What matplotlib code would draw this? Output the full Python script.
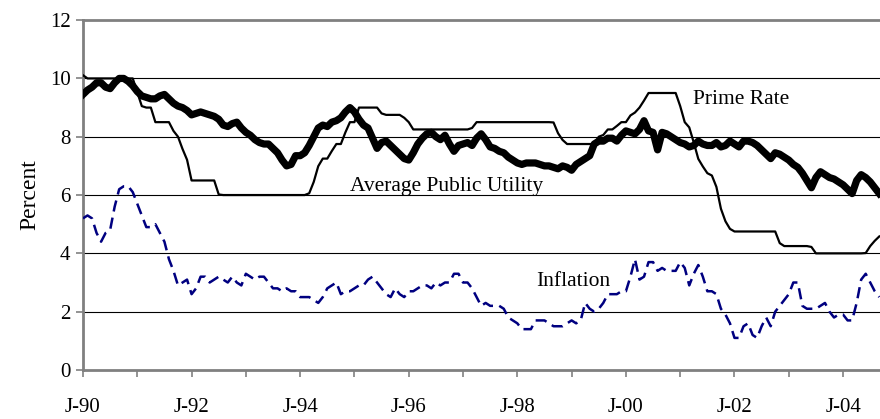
import matplotlib
matplotlib.use("Agg")
from matplotlib import pyplot as plt
import numpy as np

# monthly values, Jan 1990 .. Sep 2004
utility = [
    9.45, 9.6, 9.7, 9.85, 9.85, 9.7, 9.65, 9.85, 10.0, 10.0, 9.9, 9.75,
    9.55, 9.4, 9.35, 9.3, 9.3, 9.4, 9.45, 9.3, 9.15, 9.05, 9.0, 8.9,
    8.75, 8.8, 8.85, 8.8, 8.75, 8.7, 8.6, 8.4, 8.35, 8.45, 8.5, 8.3,
    8.15, 8.05, 7.9, 7.8, 7.75, 7.75, 7.6, 7.45, 7.2, 7.0, 7.05, 7.35,
    7.35, 7.45, 7.7, 8.0, 8.3, 8.4, 8.35, 8.5, 8.55, 8.65, 8.85, 9.0,
    8.85, 8.6, 8.4, 8.3, 7.95, 7.6, 7.8, 7.85, 7.7, 7.55, 7.4, 7.25,
    7.2, 7.45, 7.75, 7.95, 8.1, 8.15, 8.0, 7.9, 8.05, 7.75, 7.5, 7.7,
    7.75, 7.8, 7.7, 7.95, 8.1, 7.9, 7.65, 7.6, 7.5, 7.45, 7.3, 7.2,
    7.1, 7.05, 7.1, 7.1, 7.1, 7.05, 7.0, 7.0, 6.95, 6.9, 7.0, 6.95,
    6.85, 7.05, 7.15, 7.25, 7.35, 7.75, 7.85, 7.85, 7.95, 7.95, 7.85, 8.05,
    8.2, 8.15, 8.1, 8.25, 8.55, 8.2, 8.15, 7.55, 8.15, 8.1, 8.0, 7.9,
    7.8, 7.75, 7.65, 7.7, 7.85, 7.75, 7.7, 7.7, 7.8, 7.65, 7.7, 7.85,
    7.75, 7.65, 7.85, 7.85, 7.8, 7.7, 7.55, 7.4, 7.25, 7.45, 7.4, 7.3,
    7.2, 7.05, 6.95, 6.75, 6.5, 6.25, 6.6, 6.8, 6.7, 6.6, 6.55, 6.45,
    6.35, 6.2, 6.05, 6.5, 6.7, 6.6, 6.45, 6.25, 6.05,
]

prime = [
    10.11, 10, 10, 10, 10, 10, 10, 10, 10, 10, 10, 10,
    9.52, 9.05, 9.0, 9.0, 8.5, 8.5, 8.5, 8.5, 8.2, 8.0, 7.58, 7.21,
    6.5, 6.5, 6.5, 6.5, 6.5, 6.5, 6.02, 6.0, 6.0, 6.0, 6.0, 6.0,
    6.0, 6.0, 6.0, 6.0, 6.0, 6.0, 6.0, 6.0, 6.0, 6.0, 6.0, 6.0,
    6.0, 6.0, 6.06, 6.45, 6.99, 7.25, 7.25, 7.51, 7.75, 7.75, 8.15, 8.5,
    8.5, 9.0, 9.0, 9.0, 9.0, 9.0, 8.8, 8.75, 8.75, 8.75, 8.75, 8.65,
    8.5, 8.25, 8.25, 8.25, 8.25, 8.25, 8.25, 8.25, 8.25, 8.25, 8.25, 8.25,
    8.25, 8.25, 8.3, 8.5, 8.5, 8.5, 8.5, 8.5, 8.5, 8.5, 8.5, 8.5,
    8.5, 8.5, 8.5, 8.5, 8.5, 8.5, 8.5, 8.5, 8.49, 8.12, 7.89, 7.75,
    7.75, 7.75, 7.75, 7.75, 7.75, 7.75, 8.0, 8.06, 8.25, 8.25, 8.37, 8.5,
    8.5, 8.73, 8.83, 9.0, 9.24, 9.5, 9.5, 9.5, 9.5, 9.5, 9.5, 9.5,
    9.05, 8.5, 8.32, 7.8, 7.24, 6.98, 6.75, 6.67, 6.28, 5.53, 5.1, 4.84,
    4.75, 4.75, 4.75, 4.75, 4.75, 4.75, 4.75, 4.75, 4.75, 4.75, 4.35, 4.25,
    4.25, 4.25, 4.25, 4.25, 4.25, 4.22, 4.0, 4.0, 4.0, 4.0, 4.0, 4.0,
    4.0, 4.0, 4.0, 4.0, 4.0, 4.01, 4.25, 4.43, 4.58,
]

inflation = [
    5.2, 5.3, 5.2, 4.7, 4.4, 4.7, 4.8, 5.6, 6.2, 6.3, 6.3, 6.1,
    5.7, 5.3, 4.9, 4.9, 5.0, 4.7, 4.4, 3.8, 3.4, 2.9, 3.0, 3.1,
    2.6, 2.8, 3.2, 3.2, 3.0, 3.1, 3.2, 3.1, 3.0, 3.2, 3.0, 2.9,
    3.3, 3.2, 3.1, 3.2, 3.2, 3.0, 2.8, 2.8, 2.7, 2.8, 2.7, 2.7,
    2.5, 2.5, 2.5, 2.4, 2.3, 2.5, 2.8, 2.9, 3.0, 2.6, 2.7, 2.7,
    2.8, 2.9, 2.9, 3.1, 3.2, 3.0, 2.8, 2.6, 2.5, 2.8, 2.6, 2.5,
    2.7, 2.7, 2.8, 2.9, 2.9, 2.8, 3.0, 2.9, 3.0, 3.0, 3.3, 3.3,
    3.0, 3.0, 2.8, 2.5, 2.2, 2.3, 2.2, 2.2, 2.2, 2.1, 1.8, 1.7,
    1.6, 1.4, 1.4, 1.4, 1.7, 1.7, 1.7, 1.6, 1.5, 1.5, 1.5, 1.6,
    1.7, 1.6, 1.7, 2.3, 2.1, 2.0, 2.1, 2.3, 2.6, 2.6, 2.6, 2.7,
    2.7, 3.2, 3.8, 3.1, 3.2, 3.7, 3.7, 3.4, 3.5, 3.4, 3.4, 3.4,
    3.7, 3.5, 2.9, 3.3, 3.6, 3.2, 2.7, 2.7, 2.6, 2.1, 1.9, 1.6,
    1.1, 1.1, 1.5, 1.6, 1.2, 1.1, 1.5, 1.8, 1.5, 2.0, 2.2, 2.4,
    2.6, 3.0, 3.0, 2.2, 2.1, 2.1, 2.1, 2.2, 2.3, 2.0, 1.8, 1.9,
    1.9, 1.7, 1.7, 2.3, 3.1, 3.3, 3.0, 2.7, 2.5,
]

year_labels = ["J-90", "", "J-92", "", "J-94", "", "J-96", "", "J-98", "",
               "J-00", "", "J-02", "", "J-04"]

plt.rcParams['font.family'] = ['Liberation Serif', 'DejaVu Serif']

t = np.arange(len(utility)) / 12.0

fig = plt.figure(figsize=(8.8, 4.19), dpi=100)
ax = fig.add_axes([0.0943, 0.117, 0.9057, 0.835])

for yv in [2, 4, 6, 8, 10]:
    ax.axhline(yv, color='black', lw=0.8, zorder=1)

ax.plot(t, prime, color='black', lw=1.6, zorder=3)
ax.plot(t, inflation, color='#000080', lw=1.8, dashes=(4.5, 2.5), zorder=3)
ax.plot(t, utility, color='black', lw=5.2, solid_joinstyle='round', zorder=4)

ax.text(11.23, 9.26, "Prime Rate", fontsize=15.5, va='center', ha='left')
ax.text(4.92, 6.31, "Average Public Utility", fontsize=15.5, va='center', ha='left')
ax.text(8.34, 3.02, "Inflation", fontsize=15.5, va='center', ha='left')

ax.set_xlim(0, 14.68)
ax.set_ylim(0, 12)
ax.set_yticks(range(0, 13, 2))
ax.set_xticks(range(15))
ax.set_xticklabels(year_labels)
ax.tick_params(axis='both', labelsize=15, direction='out', length=5,
               width=1.2, color='#808080')
ax.tick_params(axis='x', pad=15)
ax.tick_params(axis='y', pad=4)
ax.set_ylabel("Percent", fontsize=17, labelpad=7)

for s in ['left', 'top', 'bottom']:
    ax.spines[s].set_color('#808080')
    ax.spines[s].set_linewidth(2)
ax.spines['right'].set_visible(False)

fig.savefig("out.png", dpi=100)
